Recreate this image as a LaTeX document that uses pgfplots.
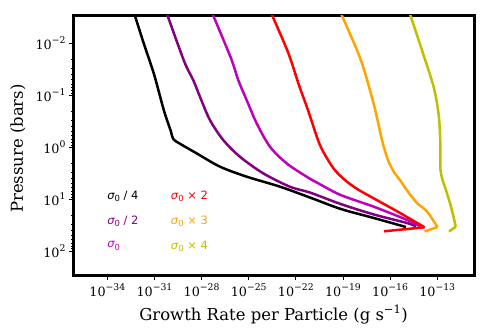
\documentclass[border=0pt]{standalone}
\usepackage{fontspec}
\setmainfont{DejaVu Serif}
\newfontfamily\dvs{DejaVu Sans}
\usepackage{pgfplots}
\pgfplotsset{compat=1.18}
\definecolor{cpurple}{HTML}{800080}
\definecolor{cmag}{HTML}{BF00BF}
\definecolor{cred}{HTML}{FF0000}
\definecolor{corange}{HTML}{FFA500}
\definecolor{cyel}{HTML}{BFBF00}
\newcommand{\sig}{{\dvs\itshape σ}\raisebox{-0.35ex}{\dvs\fontsize{8.5}{9}\selectfont 0}}
\newcommand{\tl}[1]{10\raisebox{0.9ex}{\fontsize{9.3}{10}\selectfont #1}}
\begin{document}
\begin{tikzpicture}
\path[use as bounding box] (0,0) rectangle (498bp,332bp);
\begin{axis}[
  at={(74bp,57bp)}, anchor=south west,
  scale only axis, width=400bp, height=259bp,
  xmode=log, ymode=log, y dir=reverse,
  xmin=7.59e-37, xmax=2.19e-11, ymin=2.95e-3, ymax=286,
  xtick={1e-34,1e-31,1e-28,1e-25,1e-22,1e-19,1e-16,1e-13},
  xticklabels={\tl{−34},\tl{−31},\tl{−28},\tl{−25},\tl{−22},\tl{−19},\tl{−16},\tl{−13}},
  ytick={1e-2,1e-1,1,1e1,1e2},
  yticklabels={\tl{−2},\tl{−1},\tl{0},\tl{1},\tl{2}},
  xminorticks=false,
  xtick pos=left, ytick pos=left,
  tick align=outside,
  major tick length=5bp, minor tick length=3bp,
  every tick/.style={black, line width=0.9bp},
  axis line style={line width=3bp},
  tick label style={font=\fontsize{12.8}{13}\selectfont},
  xlabel={Growth Rate per Particle (g s\textsuperscript{−1})},
  ylabel={Pressure (bars)},
  label style={font=\fontsize{16.5}{16.5}\selectfont},
  xlabel style={at={(axis description cs:0.499,-0.174)}, anchor=base},
  ylabel style={at={(axis description cs:-0.128,0.488)}, anchor=base, rotate=0},
  every axis plot/.append style={line width=2.5bp, line join=round, no markers},
  clip=true,
]
% sigma0/4
\addplot[black, smooth, tension=0.5] coordinates {
(4.46e-33,2.29e-3) (2.17e-32,1.03e-2) (9.40e-32,3.89e-2) (4.06e-31,0.197)
(1.086e-30,0.478) (1.589e-30,0.692) (4.70e-30,0.865) (4.91e-29,1.303)
(1.493e-27,2.35) (7.46e-26,3.66) (9.84e-24,5.70) (8.00e-22,9.23)
(7.19e-20,15.3) (9.48e-18,22.9) (1.03e-15,34.1)};
% sigma0/2
\addplot[cpurple, smooth, tension=0.5] coordinates {
(5.21e-31,2.29e-3) (7.62e-30,2.16e-2) (2.98e-29,5.08e-2) (7.96e-29,0.1064)
(3.44e-28,0.2985) (2.42e-27,0.724) (2.80e-26,1.517) (8.51e-25,3.162)
(4.27e-23,5.73) (8.00e-22,7.40) (7.19e-20,12.3) (9.48e-18,19.6)
(1.247e-15,28.6) (4.47e-15,33.3)};
% sigma0
\addplot[cmag, smooth, tension=0.5] coordinates {
(3.99e-28,2.29e-3) (7.16e-27,1.858e-2) (2.18e-26,5.08e-2) (7.46e-26,0.123)
(3.24e-25,0.345) (2.27e-24,0.973) (2.62e-23,2.03) (4.93e-22,3.67)
(2.70e-21,4.92) (7.19e-20,8.26) (9.48e-18,13.9) (1.247e-15,25.0)
(8.04e-15,33.0)};
% sigma0 x 2
\addplot[cred, smooth, tension=0.5] coordinates {
(2.24e-24,2.29e-3) (3.18e-23,1.469e-2) (1.59e-22,6.34e-2) (5.96e-22,0.192)
(2.58e-21,0.724) (6.22e-21,1.288) (2.69e-20,2.61) (1.352e-19,4.26)
(8.18e-19,6.34) (1.406e-17,10.3) (4.29e-16,18.3) (1.552e-14,34.5)};
\addplot[cred] coordinates {(1.552e-14,34.5) (4.10e-17,41.2)};
% sigma0 x 3
\addplot[corange, smooth, tension=0.5] coordinates {
(6.03e-20,2.29e-3) (1.309e-18,2.00e-2) (9.48e-18,0.154) (3.06e-17,0.724)
(7.38e-17,1.754) (1.778e-16,2.985) (4.74e-16,4.45) (1.143e-15,6.62)
(5.18e-15,11.8) (2.14e-14,16.8) (1.042e-13,34.1)};
\addplot[corange] coordinates {(1.042e-13,34.1) (1.552e-14,41.6)};
% sigma0 x 4
\addplot[cyel, smooth, tension=0.5] coordinates {
(1.531e-15,2.29e-3) (1.380e-14,1.702e-2) (5.98e-14,6.92e-2) (1.245e-13,0.239)
(1.574e-13,0.826) (1.667e-13,2.94) (4.20e-13,7.67) (7.55e-13,13.9)
(1.358e-12,29.0) (1.503e-12,33.7)};
\addplot[cyel] coordinates {(1.503e-12,33.7) (5.62e-13,41.6)};
% legend texts
\begin{scope}[every node/.style={anchor=west, inner sep=0pt, font=\dvs\fontsize{11.5}{12}\selectfont}]
\node[text=black]   at (axis description cs:0.083,0.305) {\sig{} / 4};
\node[text=cpurple] at (axis description cs:0.083,0.208) {\sig{} / 2};
\node[text=cmag]    at (axis description cs:0.083,0.112) {\sig};
\node[text=cred]    at (axis description cs:0.242,0.305) {\sig{} × 2};
\node[text=corange] at (axis description cs:0.242,0.208) {\sig{} × 3};
\node[text=cyel]    at (axis description cs:0.242,0.112) {\sig{} × 4};
\end{scope}
\end{axis}
\end{tikzpicture}
\end{document}
